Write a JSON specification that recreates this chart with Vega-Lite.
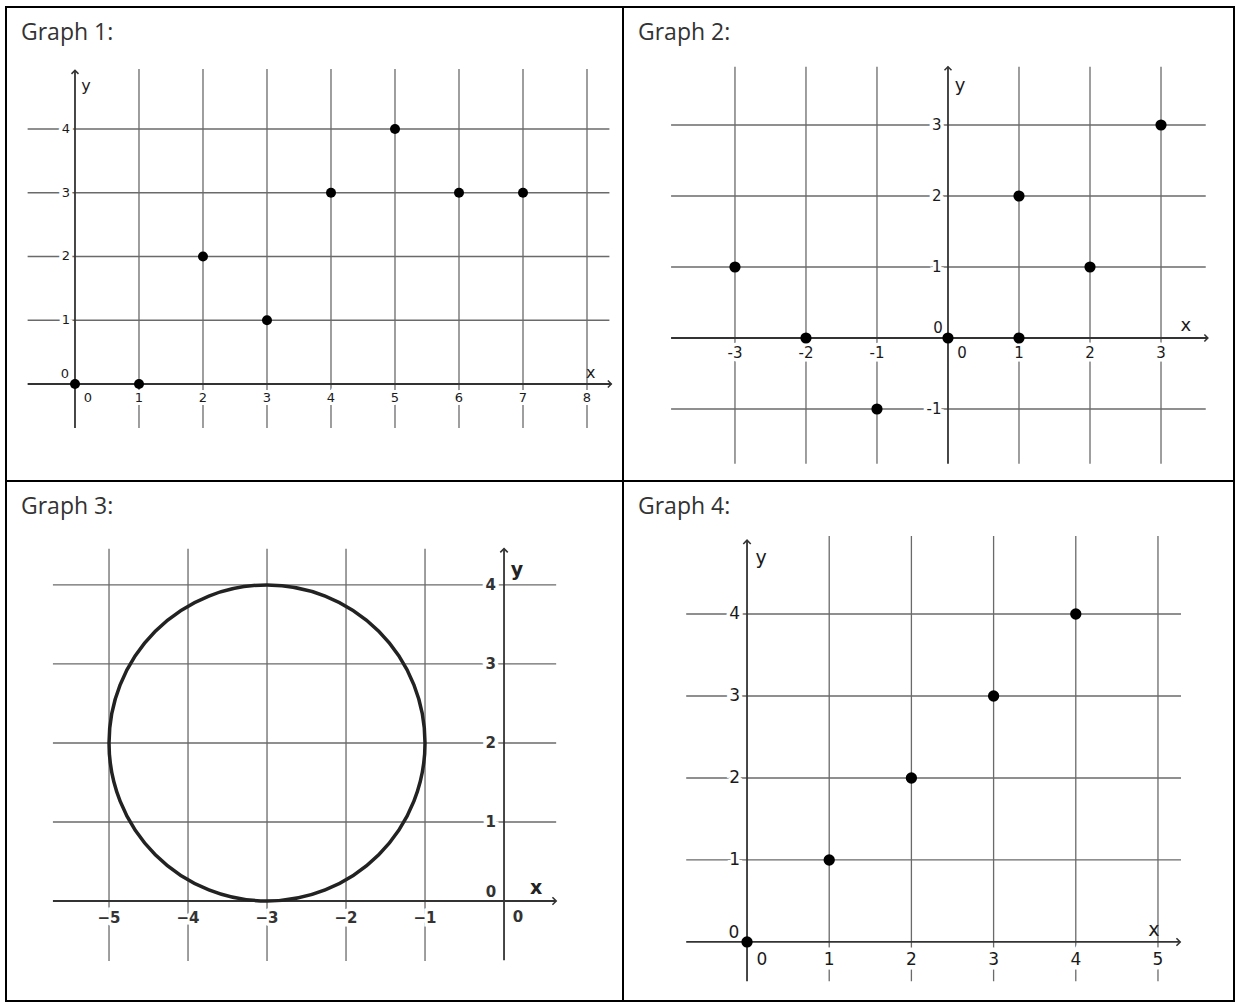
{
 "$schema": "https://vega.github.io/schema/vega-lite/v6.json",
 "background": "white",
 "padding": {"left": 5, "top": 6, "right": 1, "bottom": 2},
 "bounds": "flush",
 "spacing": 0,
 "columns": 2,
 "config": {
  "view": {"stroke": "#000", "strokeWidth": 2},
  "axis": {"disable": true},
  "title": {"anchor": "start", "frame": "group", "offset": -38, "baseline": "alphabetic", "dx": 15, "font": "Open Sans", "fontSize": 23, "fontWeight": "normal", "color": "#333"}
 },
 "datasets": {
  "origin": [{"x": 0, "y": 0}],
  "g1_pts": [{"x": 0, "y": 0}, {"x": 1, "y": 0}, {"x": 2, "y": 2}, {"x": 3, "y": 1}, {"x": 4, "y": 3}, {"x": 5, "y": 4}, {"x": 6, "y": 3}, {"x": 7, "y": 3}],
  "g1_xt": [{"x": 1, "label": "1"}, {"x": 2, "label": "2"}, {"x": 3, "label": "3"}, {"x": 4, "label": "4"}, {"x": 5, "label": "5"}, {"x": 6, "label": "6"}, {"x": 7, "label": "7"}, {"x": 8, "label": "8"}],
  "g1_yt": [{"y": 1, "label": "1"}, {"y": 2, "label": "2"}, {"y": 3, "label": "3"}, {"y": 4, "label": "4"}],
  "g2_pts": [{"x": -3, "y": 1}, {"x": -2, "y": 0}, {"x": -1, "y": -1}, {"x": 0, "y": 0}, {"x": 1, "y": 0}, {"x": 1, "y": 2}, {"x": 2, "y": 1}, {"x": 3, "y": 3}],
  "g2_xt": [{"x": -3, "label": "-3"}, {"x": -2, "label": "-2"}, {"x": -1, "label": "-1"}, {"x": 1, "label": "1"}, {"x": 2, "label": "2"}, {"x": 3, "label": "3"}],
  "g2_yt": [{"y": -1, "label": "-1"}, {"y": 1, "label": "1"}, {"y": 2, "label": "2"}, {"y": 3, "label": "3"}],
  "g3_circle": [{"x": -3, "y": 2}],
  "g3_xt": [{"x": -5, "label": "−5"}, {"x": -4, "label": "−4"}, {"x": -3, "label": "−3"}, {"x": -2, "label": "−2"}, {"x": -1, "label": "−1"}],
  "g3_yt": [{"y": 1, "label": "1"}, {"y": 2, "label": "2"}, {"y": 3, "label": "3"}, {"y": 4, "label": "4"}],
  "g4_pts": [{"x": 0, "y": 0}, {"x": 1, "y": 1}, {"x": 2, "y": 2}, {"x": 3, "y": 3}, {"x": 4, "y": 4}],
  "g4_xt": [{"x": 1, "label": "1"}, {"x": 2, "label": "2"}, {"x": 3, "label": "3"}, {"x": 4, "label": "4"}, {"x": 5, "label": "5"}],
  "g4_yt": [{"y": 1, "label": "1"}, {"y": 2, "label": "2"}, {"y": 3, "label": "3"}, {"y": 4, "label": "4"}]
 },
 "concat": [
  {
   "width": 617, "height": 474, "title": "Graph 1:",
   "layer": [
    {"data": {"name": "g1_xt"}, "mark": {"type": "rule", "color": "#6a6a6a", "strokeWidth": 1.3},
     "encoding": {"x": {"field": "x", "type": "quantitative", "scale": {"domain": [-1.078, 8.5625], "nice": false, "zero": false}},
      "y": {"datum": -0.69, "type": "quantitative", "scale": {"domain": [-1.522, 5.914], "nice": false, "zero": false}},
      "y2": {"datum": 4.94}}},
    {"data": {"name": "g1_yt"}, "mark": {"type": "rule", "color": "#6a6a6a", "strokeWidth": 1.3},
     "encoding": {"y": {"field": "y", "type": "quantitative"}, "x": {"datum": -0.74, "type": "quantitative"}, "x2": {"datum": 8.35}}},
    {"data": {"name": "g1_xt"}, "mark": {"type": "text", "font": "DejaVu Sans", "fontSize": 13, "fill": "white", "stroke": "white", "strokeWidth": 6, "dy": 14},
     "encoding": {"x": {"field": "x", "type": "quantitative"}, "y": {"datum": 0, "type": "quantitative"}, "text": {"field": "label", "type": "nominal"}}},
    {"data": {"name": "g1_yt"}, "mark": {"type": "text", "font": "DejaVu Sans", "fontSize": 13, "fill": "white", "stroke": "white", "strokeWidth": 7, "align": "right", "dx": -5},
     "encoding": {"y": {"field": "y", "type": "quantitative"}, "x": {"datum": 0, "type": "quantitative"}, "text": {"field": "label", "type": "nominal"}}},
    {"data": {"name": "origin"}, "mark": {"type": "rule", "color": "#333", "strokeWidth": 1.8},
     "encoding": {"y": {"field": "y", "type": "quantitative"}, "x": {"datum": -0.74, "type": "quantitative"}, "x2": {"datum": 8.38}}},
    {"data": {"name": "origin"}, "mark": {"type": "rule", "color": "#333", "strokeWidth": 1.8},
     "encoding": {"x": {"field": "x", "type": "quantitative"}, "y": {"datum": -0.69, "type": "quantitative"}, "y2": {"datum": 4.92}}},
    {"data": {"name": "origin"}, "mark": {"type": "point", "shape": "M-1,-1L0,0L-1,1", "filled": false, "stroke": "#333", "strokeWidth": 1.5, "size": 49, "opacity": 1},
     "encoding": {"y": {"field": "y", "type": "quantitative"}, "x": {"datum": 8.38, "type": "quantitative"}}},
    {"data": {"name": "origin"}, "mark": {"type": "point", "shape": "M-1,1L0,0L1,1", "filled": false, "stroke": "#333", "strokeWidth": 1.5, "size": 49, "opacity": 1},
     "encoding": {"x": {"field": "x", "type": "quantitative"}, "y": {"datum": 4.92, "type": "quantitative"}}},
    {"data": {"name": "g1_xt"}, "mark": {"type": "text", "font": "DejaVu Sans", "fontSize": 13, "color": "#1a1a1a", "dy": 14},
     "encoding": {"x": {"field": "x", "type": "quantitative"}, "y": {"datum": 0, "type": "quantitative"}, "text": {"field": "label", "type": "nominal"}}},
    {"data": {"name": "g1_yt"}, "mark": {"type": "text", "font": "DejaVu Sans", "fontSize": 13, "color": "#1a1a1a", "align": "right", "dx": -5},
     "encoding": {"y": {"field": "y", "type": "quantitative"}, "x": {"datum": 0, "type": "quantitative"}, "text": {"field": "label", "type": "nominal"}}},
    {"data": {"name": "origin"}, "mark": {"type": "text", "text": "0", "font": "DejaVu Sans", "fontSize": 13, "color": "#1a1a1a", "dx": 13, "dy": 14},
     "encoding": {"x": {"field": "x", "type": "quantitative"}, "y": {"field": "y", "type": "quantitative"}}},
    {"data": {"name": "origin"}, "mark": {"type": "text", "text": "0", "font": "DejaVu Sans", "fontSize": 13, "color": "#1a1a1a", "dx": -10, "dy": -10},
     "encoding": {"x": {"field": "x", "type": "quantitative"}, "y": {"field": "y", "type": "quantitative"}}},
    {"data": {"name": "origin"}, "mark": {"type": "text", "text": "x", "font": "DejaVu Sans", "fontSize": 16, "color": "#1a1a1a", "dy": -11},
     "encoding": {"x": {"datum": 8.06, "type": "quantitative"}, "y": {"field": "y", "type": "quantitative"}}},
    {"data": {"name": "origin"}, "mark": {"type": "text", "text": "y", "font": "DejaVu Sans", "fontSize": 16, "color": "#1a1a1a", "dx": 11},
     "encoding": {"x": {"field": "x", "type": "quantitative"}, "y": {"datum": 4.67, "type": "quantitative"}}},
    {"data": {"name": "g1_pts"}, "mark": {"type": "circle", "color": "black", "size": 100, "opacity": 1},
     "encoding": {"x": {"field": "x", "type": "quantitative"}, "y": {"field": "y", "type": "quantitative"}}}
   ]
  },
  {
   "width": 611, "height": 474, "title": "Graph 2:",
   "layer": [
    {"data": {"name": "g2_xt"}, "mark": {"type": "rule", "color": "#6a6a6a", "strokeWidth": 1.3},
     "encoding": {"x": {"field": "x", "type": "quantitative", "scale": {"domain": [-4.577, 4.028], "nice": false, "zero": false}},
      "y": {"datum": -1.77, "type": "quantitative", "scale": {"domain": [-2.014, 4.662], "nice": false, "zero": false}},
      "y2": {"datum": 3.82}}},
    {"data": {"name": "g2_yt"}, "mark": {"type": "rule", "color": "#6a6a6a", "strokeWidth": 1.3},
     "encoding": {"y": {"field": "y", "type": "quantitative"}, "x": {"datum": -3.9, "type": "quantitative"}, "x2": {"datum": 3.63}}},
    {"data": {"name": "g2_xt"}, "mark": {"type": "text", "font": "DejaVu Sans", "fontSize": 15, "fill": "white", "stroke": "white", "strokeWidth": 7, "dy": 15},
     "encoding": {"x": {"field": "x", "type": "quantitative"}, "y": {"datum": 0, "type": "quantitative"}, "text": {"field": "label", "type": "nominal"}}},
    {"data": {"name": "g2_yt"}, "mark": {"type": "text", "font": "DejaVu Sans", "fontSize": 15, "fill": "white", "stroke": "white", "strokeWidth": 7, "align": "right", "dx": -6.5},
     "encoding": {"y": {"field": "y", "type": "quantitative"}, "x": {"datum": 0, "type": "quantitative"}, "text": {"field": "label", "type": "nominal"}}},
    {"data": {"name": "origin"}, "mark": {"type": "rule", "color": "#333", "strokeWidth": 1.8},
     "encoding": {"y": {"field": "y", "type": "quantitative"}, "x": {"datum": -3.9, "type": "quantitative"}, "x2": {"datum": 3.66}}},
    {"data": {"name": "origin"}, "mark": {"type": "rule", "color": "#333", "strokeWidth": 1.8},
     "encoding": {"x": {"field": "x", "type": "quantitative"}, "y": {"datum": -1.77, "type": "quantitative"}, "y2": {"datum": 3.82}}},
    {"data": {"name": "origin"}, "mark": {"type": "point", "shape": "M-1,-1L0,0L-1,1", "filled": false, "stroke": "#333", "strokeWidth": 1.5, "size": 49, "opacity": 1},
     "encoding": {"y": {"field": "y", "type": "quantitative"}, "x": {"datum": 3.66, "type": "quantitative"}}},
    {"data": {"name": "origin"}, "mark": {"type": "point", "shape": "M-1,1L0,0L1,1", "filled": false, "stroke": "#333", "strokeWidth": 1.5, "size": 49, "opacity": 1},
     "encoding": {"x": {"field": "x", "type": "quantitative"}, "y": {"datum": 3.82, "type": "quantitative"}}},
    {"data": {"name": "g2_xt"}, "mark": {"type": "text", "font": "DejaVu Sans", "fontSize": 15, "color": "#1a1a1a", "dy": 15},
     "encoding": {"x": {"field": "x", "type": "quantitative"}, "y": {"datum": 0, "type": "quantitative"}, "text": {"field": "label", "type": "nominal"}}},
    {"data": {"name": "g2_yt"}, "mark": {"type": "text", "font": "DejaVu Sans", "fontSize": 15, "color": "#1a1a1a", "align": "right", "dx": -6.5},
     "encoding": {"y": {"field": "y", "type": "quantitative"}, "x": {"datum": 0, "type": "quantitative"}, "text": {"field": "label", "type": "nominal"}}},
    {"data": {"name": "origin"}, "mark": {"type": "text", "text": "0", "font": "DejaVu Sans", "fontSize": 15, "color": "#1a1a1a", "dx": 14, "dy": 15},
     "encoding": {"x": {"field": "x", "type": "quantitative"}, "y": {"field": "y", "type": "quantitative"}}},
    {"data": {"name": "origin"}, "mark": {"type": "text", "text": "0", "font": "DejaVu Sans", "fontSize": 15, "color": "#1a1a1a", "dx": -10, "dy": -10},
     "encoding": {"x": {"field": "x", "type": "quantitative"}, "y": {"field": "y", "type": "quantitative"}}},
    {"data": {"name": "origin"}, "mark": {"type": "text", "text": "x", "font": "DejaVu Sans", "fontSize": 18, "color": "#1a1a1a", "dy": -12},
     "encoding": {"x": {"datum": 3.35, "type": "quantitative"}, "y": {"field": "y", "type": "quantitative"}}},
    {"data": {"name": "origin"}, "mark": {"type": "text", "text": "y", "font": "DejaVu Sans", "fontSize": 18, "color": "#1a1a1a", "dx": 12},
     "encoding": {"x": {"field": "x", "type": "quantitative"}, "y": {"datum": 3.55, "type": "quantitative"}}},
    {"data": {"name": "g2_pts"}, "mark": {"type": "circle", "color": "black", "size": 125, "opacity": 1},
     "encoding": {"x": {"field": "x", "type": "quantitative"}, "y": {"field": "y", "type": "quantitative"}}}
   ]
  },
  {
   "width": 617, "height": 520, "title": "Graph 3:",
   "layer": [
    {"data": {"name": "g3_xt"}, "mark": {"type": "rule", "color": "#6a6a6a", "strokeWidth": 1.3},
     "encoding": {"x": {"field": "x", "type": "quantitative", "scale": {"domain": [-6.304, 1.506], "nice": false, "zero": false}},
      "y": {"datum": -0.76, "type": "quantitative", "scale": {"domain": [-1.266, 5.316], "nice": false, "zero": false}},
      "y2": {"datum": 4.46}}},
    {"data": {"name": "g3_yt"}, "mark": {"type": "rule", "color": "#6a6a6a", "strokeWidth": 1.3},
     "encoding": {"y": {"field": "y", "type": "quantitative"}, "x": {"datum": -5.71, "type": "quantitative"}, "x2": {"datum": 0.66}}},
    {"data": {"name": "g3_xt"}, "mark": {"type": "text", "font": "DejaVu Sans", "fontSize": 15, "fontWeight": "bold", "fill": "white", "stroke": "white", "strokeWidth": 7, "dy": 17},
     "encoding": {"x": {"field": "x", "type": "quantitative"}, "y": {"datum": 0, "type": "quantitative"}, "text": {"field": "label", "type": "nominal"}}},
    {"data": {"name": "g3_yt"}, "mark": {"type": "text", "font": "DejaVu Sans", "fontSize": 15, "fontWeight": "bold", "fill": "white", "stroke": "white", "strokeWidth": 7, "align": "right", "dx": -8},
     "encoding": {"y": {"field": "y", "type": "quantitative"}, "x": {"datum": 0, "type": "quantitative"}, "text": {"field": "label", "type": "nominal"}}},
    {"data": {"name": "origin"}, "mark": {"type": "rule", "color": "#333", "strokeWidth": 1.8},
     "encoding": {"y": {"field": "y", "type": "quantitative"}, "x": {"datum": -5.71, "type": "quantitative"}, "x2": {"datum": 0.66}}},
    {"data": {"name": "origin"}, "mark": {"type": "rule", "color": "#333", "strokeWidth": 1.8},
     "encoding": {"x": {"field": "x", "type": "quantitative"}, "y": {"datum": -0.75, "type": "quantitative"}, "y2": {"datum": 4.46}}},
    {"data": {"name": "origin"}, "mark": {"type": "point", "shape": "M-1,-1L0,0L-1,1", "filled": false, "stroke": "#333", "strokeWidth": 1.6, "size": 56, "opacity": 1},
     "encoding": {"y": {"field": "y", "type": "quantitative"}, "x": {"datum": 0.66, "type": "quantitative"}}},
    {"data": {"name": "origin"}, "mark": {"type": "point", "shape": "M-1,1L0,0L1,1", "filled": false, "stroke": "#333", "strokeWidth": 1.6, "size": 56, "opacity": 1},
     "encoding": {"x": {"field": "x", "type": "quantitative"}, "y": {"datum": 4.46, "type": "quantitative"}}},
    {"data": {"name": "g3_xt"}, "mark": {"type": "text", "font": "DejaVu Sans", "fontSize": 15, "fontWeight": "bold", "color": "#333", "dy": 17},
     "encoding": {"x": {"field": "x", "type": "quantitative"}, "y": {"datum": 0, "type": "quantitative"}, "text": {"field": "label", "type": "nominal"}}},
    {"data": {"name": "g3_yt"}, "mark": {"type": "text", "font": "DejaVu Sans", "fontSize": 15, "fontWeight": "bold", "color": "#333", "align": "right", "dx": -8},
     "encoding": {"y": {"field": "y", "type": "quantitative"}, "x": {"datum": 0, "type": "quantitative"}, "text": {"field": "label", "type": "nominal"}}},
    {"data": {"name": "origin"}, "mark": {"type": "text", "text": "0", "font": "DejaVu Sans", "fontSize": 15, "fontWeight": "bold", "color": "#333", "dx": 14, "dy": 16},
     "encoding": {"x": {"field": "x", "type": "quantitative"}, "y": {"field": "y", "type": "quantitative"}}},
    {"data": {"name": "origin"}, "mark": {"type": "text", "text": "0", "font": "DejaVu Sans", "fontSize": 15, "fontWeight": "bold", "color": "#333", "dx": -13, "dy": -9},
     "encoding": {"x": {"field": "x", "type": "quantitative"}, "y": {"field": "y", "type": "quantitative"}}},
    {"data": {"name": "origin"}, "mark": {"type": "text", "text": "x", "font": "DejaVu Sans", "fontSize": 19, "fontWeight": "bold", "color": "#222", "dy": -13},
     "encoding": {"x": {"datum": 0.405, "type": "quantitative"}, "y": {"field": "y", "type": "quantitative"}}},
    {"data": {"name": "origin"}, "mark": {"type": "text", "text": "y", "font": "DejaVu Sans", "fontSize": 19, "fontWeight": "bold", "color": "#222", "dx": 13},
     "encoding": {"x": {"field": "x", "type": "quantitative"}, "y": {"datum": 4.19, "type": "quantitative"}}},
    {"data": {"name": "g3_circle"}, "mark": {"type": "point", "shape": "circle", "filled": false, "stroke": "#222", "strokeWidth": 3.5, "size": 99856, "opacity": 1},
     "encoding": {"x": {"field": "x", "type": "quantitative"}, "y": {"field": "y", "type": "quantitative"}}}
   ]
  },
  {
   "width": 611, "height": 520, "title": "Graph 4:",
   "layer": [
    {"data": {"name": "g4_xt"}, "mark": {"type": "rule", "color": "#6a6a6a", "strokeWidth": 1.3},
     "encoding": {"x": {"field": "x", "type": "quantitative", "scale": {"domain": [-1.509, 5.925], "nice": false, "zero": false}},
      "y": {"datum": -0.48, "type": "quantitative", "scale": {"domain": [-0.72, 5.622], "nice": false, "zero": false}},
      "y2": {"datum": 4.95}}},
    {"data": {"name": "g4_yt"}, "mark": {"type": "rule", "color": "#6a6a6a", "strokeWidth": 1.3},
     "encoding": {"y": {"field": "y", "type": "quantitative"}, "x": {"datum": -0.74, "type": "quantitative"}, "x2": {"datum": 5.28}}},
    {"data": {"name": "g4_xt"}, "mark": {"type": "text", "font": "DejaVu Sans", "fontSize": 17, "fill": "white", "stroke": "white", "strokeWidth": 9, "dy": 18},
     "encoding": {"x": {"field": "x", "type": "quantitative"}, "y": {"datum": 0, "type": "quantitative"}, "text": {"field": "label", "type": "nominal"}}},
    {"data": {"name": "g4_yt"}, "mark": {"type": "text", "font": "DejaVu Sans", "fontSize": 17, "fill": "white", "stroke": "white", "strokeWidth": 7, "align": "right", "dx": -7},
     "encoding": {"y": {"field": "y", "type": "quantitative"}, "x": {"datum": 0, "type": "quantitative"}, "text": {"field": "label", "type": "nominal"}}},
    {"data": {"name": "origin"}, "mark": {"type": "rule", "color": "#333", "strokeWidth": 1.8},
     "encoding": {"y": {"field": "y", "type": "quantitative"}, "x": {"datum": -0.74, "type": "quantitative"}, "x2": {"datum": 5.27}}},
    {"data": {"name": "origin"}, "mark": {"type": "rule", "color": "#333", "strokeWidth": 1.8},
     "encoding": {"x": {"field": "x", "type": "quantitative"}, "y": {"datum": -0.48, "type": "quantitative"}, "y2": {"datum": 4.9}}},
    {"data": {"name": "origin"}, "mark": {"type": "point", "shape": "M-1,-1L0,0L-1,1", "filled": false, "stroke": "#333", "strokeWidth": 1.6, "size": 56, "opacity": 1},
     "encoding": {"y": {"field": "y", "type": "quantitative"}, "x": {"datum": 5.27, "type": "quantitative"}}},
    {"data": {"name": "origin"}, "mark": {"type": "point", "shape": "M-1,1L0,0L1,1", "filled": false, "stroke": "#333", "strokeWidth": 1.6, "size": 56, "opacity": 1},
     "encoding": {"x": {"field": "x", "type": "quantitative"}, "y": {"datum": 4.9, "type": "quantitative"}}},
    {"data": {"name": "g4_xt"}, "mark": {"type": "text", "font": "DejaVu Sans", "fontSize": 17, "color": "#1a1a1a", "dy": 18},
     "encoding": {"x": {"field": "x", "type": "quantitative"}, "y": {"datum": 0, "type": "quantitative"}, "text": {"field": "label", "type": "nominal"}}},
    {"data": {"name": "g4_yt"}, "mark": {"type": "text", "font": "DejaVu Sans", "fontSize": 17, "color": "#1a1a1a", "align": "right", "dx": -7},
     "encoding": {"y": {"field": "y", "type": "quantitative"}, "x": {"datum": 0, "type": "quantitative"}, "text": {"field": "label", "type": "nominal"}}},
    {"data": {"name": "origin"}, "mark": {"type": "text", "text": "0", "font": "DejaVu Sans", "fontSize": 17, "color": "#1a1a1a", "dx": 15, "dy": 18},
     "encoding": {"x": {"field": "x", "type": "quantitative"}, "y": {"field": "y", "type": "quantitative"}}},
    {"data": {"name": "origin"}, "mark": {"type": "text", "text": "0", "font": "DejaVu Sans", "fontSize": 17, "color": "#1a1a1a", "dx": -13, "dy": -9},
     "encoding": {"x": {"field": "x", "type": "quantitative"}, "y": {"field": "y", "type": "quantitative"}}},
    {"data": {"name": "origin"}, "mark": {"type": "text", "text": "x", "font": "DejaVu Sans", "fontSize": 19, "color": "#1a1a1a", "dy": -12},
     "encoding": {"x": {"datum": 4.95, "type": "quantitative"}, "y": {"field": "y", "type": "quantitative"}}},
    {"data": {"name": "origin"}, "mark": {"type": "text", "text": "y", "font": "DejaVu Sans", "fontSize": 19, "color": "#1a1a1a", "dx": 14},
     "encoding": {"x": {"field": "x", "type": "quantitative"}, "y": {"datum": 4.68, "type": "quantitative"}}},
    {"data": {"name": "g4_pts"}, "mark": {"type": "circle", "color": "black", "size": 128, "opacity": 1},
     "encoding": {"x": {"field": "x", "type": "quantitative"}, "y": {"field": "y", "type": "quantitative"}}}
   ]
  }
 ]
}
